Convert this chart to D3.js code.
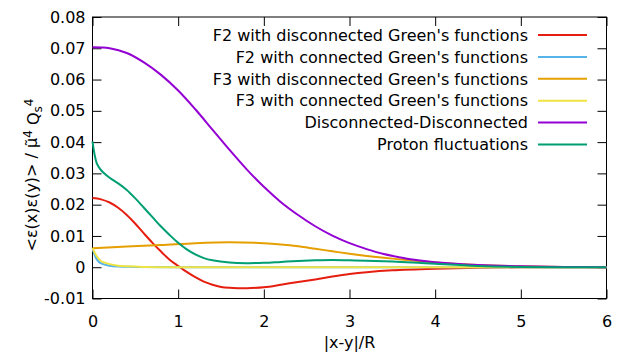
<!DOCTYPE html>
<html>
<head>
<meta charset="utf-8">
<script src="https://cdn.jsdelivr.net/npm/d3@7"></script>
<style>
  body { margin: 0; background: #fff; }
  text { font-family: "DejaVu Sans", sans-serif; }
</style>
</head>
<body>
<div id="chart"></div>
<script>
// values
var xRed = [0, 0.1, 0.2, 0.3, 0.4, 0.5, 0.6, 0.7, 0.8, 0.9, 1.0, 1.1, 1.2, 1.3, 1.4, 1.5, 1.6, 1.7, 1.8, 2.0, 2.2, 2.4, 2.6, 2.8, 3.0, 3.2, 3.5, 4.0, 4.5, 5.0, 6.0];
var yRed = [0.0221, 0.0217, 0.0207, 0.0190, 0.0167, 0.0139, 0.0108, 0.0078, 0.0050, 0.0024, 0.0004, -0.0015, -0.0032, -0.0046, -0.0056, -0.0063, -0.0066, -0.0067, -0.0067, -0.0064, -0.0056, -0.0047, -0.0039, -0.0030, -0.0022, -0.0016, -0.0010, -0.0005, -0.0002, 0, 0];

var xBlue = [0, 0.05, 0.1, 0.2, 0.3, 0.5, 1, 2, 3, 4, 5, 6];
var yBlue = [0.0060, 0.0025, 0.0012, 0.0005, 0.0002, 0.0001, 0, 0, 0, 0, 0, 0];

var xOrange = [0, 0.4, 0.8, 1.2, 1.6, 2.0, 2.2, 2.4, 2.6, 2.8, 3.0, 3.2, 3.4, 3.6, 3.8, 4.0, 4.5, 5.0, 5.5, 6.0];
var yOrange = [0.0061, 0.0066, 0.0071, 0.0077, 0.0080, 0.0077, 0.0073, 0.0067, 0.0059, 0.0051, 0.0043, 0.0036, 0.0030, 0.0025, 0.0020, 0.0015, 0.0007, 0.0003, 0.0001, 0];

var xYellow = [0, 0.05, 0.1, 0.2, 0.3, 0.4, 0.6, 1, 2, 3, 4, 5, 6];
var yYellow = [0.0061, 0.0035, 0.0020, 0.0010, 0.0005, 0.0003, 0.0001, 0, 0, 0, 0, 0, 0];

var xPurple = [0, 0.2, 0.4, 0.6, 0.8, 1.0, 1.2, 1.4, 1.6, 1.8, 2.0, 2.2, 2.4, 2.6, 2.8, 3.0, 3.2, 3.4, 3.6, 3.8, 4.0, 4.5, 5.0, 5.5, 6.0];
var yPurple = [0.0703, 0.0700, 0.0685, 0.0655, 0.0615, 0.0565, 0.0505, 0.0440, 0.0375, 0.0313, 0.0257, 0.0208, 0.0167, 0.0131, 0.0101, 0.0077, 0.0058, 0.0042, 0.0031, 0.0022, 0.0016, 0.0007, 0.0003, 0.0001, 0];

var xGreen = [0, 0.05, 0.1, 0.2, 0.3, 0.4, 0.5, 0.6, 0.7, 0.8, 0.9, 1.0, 1.1, 1.2, 1.3, 1.4, 1.6, 1.8, 2.0, 2.2, 2.4, 2.6, 2.8, 3.0, 3.2, 3.5, 3.8, 4.0, 4.5, 5.0, 6.0];
var yGreen = [0.0402, 0.0332, 0.0310, 0.0286, 0.0268, 0.0247, 0.0220, 0.0190, 0.0160, 0.0130, 0.0103, 0.0078, 0.0057, 0.0041, 0.0029, 0.0022, 0.0015, 0.0013, 0.0014, 0.0017, 0.0020, 0.0022, 0.0023, 0.0022, 0.0021, 0.0018, 0.0014, 0.0011, 0.0004, 0.0001, 0];

var labels = [
  "F2 with disconnected Green's functions",
  "F2 with connected Green's functions",
  "F3 with disconnected Green's functions",
  "F3 with connected Green's functions",
  "Disconnected-Disconnected",
  "Proton fluctuations"
];
var colors = ["#e51e10", "#56b4e9", "#e69f00", "#f0e442", "#9400d3", "#009e73"];

var xTicks = [0, 1, 2, 3, 4, 5, 6];
var yTicks = [-0.01, 0, 0.01, 0.02, 0.03, 0.04, 0.05, 0.06, 0.07, 0.08];

var series = [
  [xRed, yRed], [xBlue, yBlue], [xOrange, yOrange],
  [xYellow, yYellow], [xPurple, yPurple], [xGreen, yGreen]
];

// set the dimensions and margins of the graph
var W = 633, H = 360;
var margin = {top: 17, right: 26.5, bottom: 61.5, left: 92.5},
  width = W - margin.left - margin.right,
  height = H - margin.top - margin.bottom;

var svg = d3.select("#chart")
  .append("svg")
    .attr("width", W)
    .attr("height", H)
  .append("g")
    .attr("transform", "translate(" + margin.left + "," + margin.top + ")");

var x = d3.scaleLinear().domain([0, 6]).range([0, width]);
var y = d3.scaleLinear().domain([-0.01, 0.08]).range([height, 0]);

var fmt = function(d){ return d === 0 ? "0" : d.toFixed(2); };

// axes, ticks pointing inward, mirrored on top/right
var gl = svg.append("g")
  .call(d3.axisLeft(y).tickValues(yTicks).tickFormat(fmt).tickSize(-9).tickSizeOuter(0).tickPadding(7));
var gb = svg.append("g")
  .attr("transform", "translate(0," + height + ")")
  .call(d3.axisBottom(x).tickValues(xTicks).tickFormat(d3.format("d")).tickSize(-9).tickSizeOuter(0).tickPadding(17));
var gt = svg.append("g")
  .call(d3.axisTop(x).tickValues(xTicks).tickFormat("").tickSize(-9).tickSizeOuter(0));
var gr = svg.append("g")
  .attr("transform", "translate(" + width + ",0)")
  .call(d3.axisRight(y).tickValues(yTicks).tickFormat("").tickSize(-9).tickSizeOuter(0));

[gl, gb, gt, gr].forEach(function(g){
  g.select(".domain").remove();
  g.selectAll("line").attr("stroke", "#000");
  g.selectAll("text").attr("fill", "#000").style("font-size", "16px").style("font-family", "DejaVu Sans");
});

// frame
svg.append("rect")
  .attr("x", 0).attr("y", 0)
  .attr("width", width).attr("height", height)
  .attr("fill", "none")
  .attr("stroke", "#000")
  .attr("stroke-width", 1);

// curves
var line = d3.line()
  .x(function(d){ return x(d[0]); })
  .y(function(d){ return y(d[1]); })
  .curve(d3.curveCatmullRom.alpha(0.5));

series.forEach(function(s, i){
  var pts = s[0].map(function(v, j){ return [v, s[1][j]]; });
  svg.append("path")
    .datum(pts)
    .attr("d", line)
    .attr("fill", "none")
    .attr("stroke", colors[i])
    .attr("stroke-width", 2);
});

// legend
var legend = svg.append("g").attr("transform", "translate(" + (528 - margin.left) + "," + (35 - margin.top) + ")");
labels.forEach(function(lab, i){
  var row = legend.append("g").attr("transform", "translate(0," + (i * 21.9) + ")");
  row.append("text")
    .attr("x", 0).attr("y", 0).attr("dy", "0.36em")
    .attr("text-anchor", "end")
    .style("font-size", "16px")
    .text(lab);
  row.append("line")
    .attr("x1", 10).attr("x2", 59)
    .attr("y1", 0).attr("y2", 0)
    .attr("stroke", colors[i])
    .attr("stroke-width", 2);
});

// axis labels
svg.append("text")
  .attr("x", width / 2)
  .attr("y", 348 - margin.top)
  .attr("text-anchor", "middle")
  .style("font-size", "16px")
  .text("|x-y|/R");

var yl = svg.append("text")
  .attr("transform", "translate(" + (37 - margin.left) + "," + (175 - margin.top) + ")rotate(-90)")
  .attr("text-anchor", "middle")
  .style("font-size", "16px");
yl.append("tspan").text("<\u03b5(x)\u03b5(y)> / \u03bc\u0303");
yl.append("tspan").attr("dy", "-0.45em").style("font-size", "12px").text("4");
yl.append("tspan").attr("dy", "0.45em").text(" Q");
yl.append("tspan").attr("dy", "0.3em").style("font-size", "12px").text("s");
yl.append("tspan").attr("dy", "-0.8em").style("font-size", "12px").text("4");
</script>
</body>
</html>
